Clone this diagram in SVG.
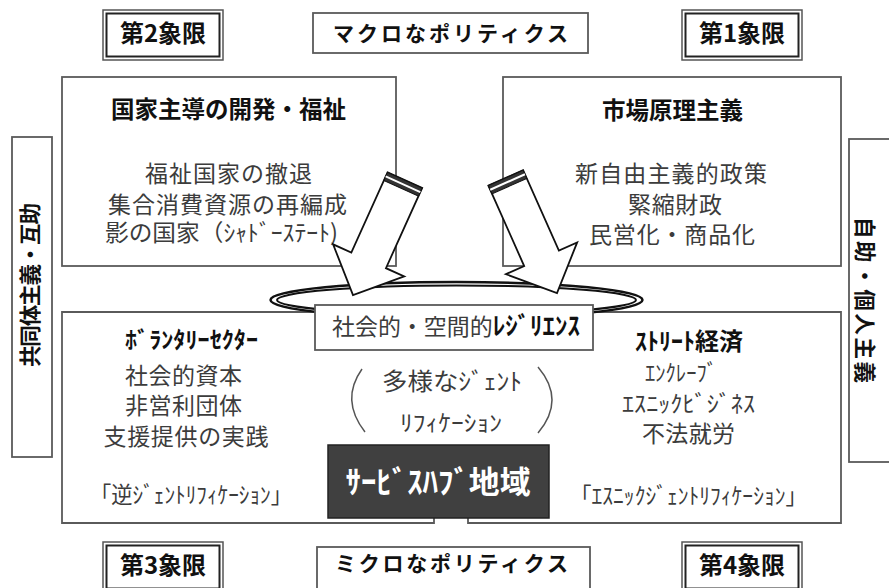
<svg xmlns="http://www.w3.org/2000/svg" width="889" height="588" viewBox="0 0 889 588">
<defs>
<style>
text{font-family:'Noto Sans CJK JP','Noto Sans CJK SC','Noto Sans',sans-serif;text-anchor:middle}
.box{fill:#fff;stroke:#5a5a5a;stroke-width:1.8}
.qo{fill:#fff;stroke:#555;stroke-width:1.5}
.qi{fill:none;stroke:#222;stroke-width:2}
.q{font-size:24px;font-weight:bold;fill:#111}
.pol{font-size:21px;font-weight:bold;fill:#111}
.ti{font-size:23.5px;font-weight:bold;fill:#111}
.t{font-size:23px;fill:#3c3c3c}
.s{font-size:22.5px;fill:#3c3c3c}
.side{font-size:21.5px;font-weight:bold;fill:#111}
.paren{fill:none;stroke:#555;stroke-width:1.5}
</style>
<g id="blockArrow">
<polygon points="-19,-126 19,-126 19,-38 39,-38 0,0 -39,-38 -19,-38" fill="#fff" stroke="#111" stroke-width="1.8" stroke-linejoin="miter"/>
<rect x="-19" y="-126" width="38" height="9" fill="#333" stroke="#111" stroke-width="1"/>
<line x1="-19" y1="-121.5" x2="19" y2="-121.5" stroke="#fff" stroke-width="2"/>
</g>
</defs>
<rect width="889" height="588" fill="#fff"/>

<g id="q2"><rect class="qo" x="103" y="10" width="120" height="50"/><rect class="qi" x="106.5" y="13.5" width="113" height="43"/><text class="q" x="163" y="42">第2象限</text></g>
<g id="q1"><rect class="qo" x="682" y="10" width="120" height="50"/><rect class="qi" x="685.5" y="13.5" width="113" height="43"/><text class="q" x="742" y="42">第1象限</text></g>
<g id="q3"><rect class="qo" x="103" y="542" width="120" height="50"/><rect class="qi" x="106.5" y="545.5" width="113" height="43"/><text class="q" x="163" y="574">第3象限</text></g>
<g id="q4"><rect class="qo" x="682" y="542" width="120" height="50"/><rect class="qi" x="685.5" y="545.5" width="113" height="43"/><text class="q" x="742" y="574">第4象限</text></g>

<g id="macro"><rect class="box" x="313" y="13" width="275" height="40"/><text class="pol" x="450.5" y="41" textLength="235" lengthAdjust="spacing">マクロなポリティクス</text></g>
<g id="micro"><rect class="box" x="317" y="547" width="273" height="42"/><text class="pol" x="451.5" y="571" textLength="233" lengthAdjust="spacing">ミクロなポリティクス</text></g>

<g id="side-left"><rect class="box" x="12" y="137" width="40" height="320"/><text class="side" transform="translate(38,285) rotate(-90)" textLength="164" lengthAdjust="spacing">共同体主義・互助</text></g>
<g id="side-right"><rect class="box" x="849" y="139" width="42" height="323"/><text class="side" transform="translate(857,300) rotate(90)" textLength="166" lengthAdjust="spacing">自助・個人主義</text></g>

<g id="quad2">
<rect class="box" x="62" y="77" width="334" height="189"/>
<text class="ti" x="228.5" y="118">国家主導の開発・福祉</text>
<text class="t" x="228.5" y="182" textLength="167" lengthAdjust="spacing">福祉国家の撤退</text>
<text class="t" x="227.5" y="213" textLength="239" lengthAdjust="spacing">集合消費資源の再編成</text>
<text class="t" x="221.5" y="241" textLength="233" lengthAdjust="spacingAndGlyphs">影の国家（ｼｬﾄﾞｰｽﾃｰﾄ)</text>
</g>
<g id="quad1">
<rect class="box" x="503" y="77" width="338" height="189"/>
<text class="ti" x="672.5" y="119">市場原理主義</text>
<text class="t" x="671" y="182" textLength="192" lengthAdjust="spacing">新自由主義的政策</text>
<text class="t" x="675" y="213" textLength="94" lengthAdjust="spacing">緊縮財政</text>
<text class="t" x="672" y="243" textLength="166" lengthAdjust="spacing">民営化・商品化</text>
</g>

<g id="lower">
<path d="M434,518 V523 H62 V312 H841 V523 H468 V518" fill="#fff" stroke="#5a5a5a" stroke-width="1.8"/>
</g>

<g id="quad3">
<text class="ti" x="191.5" y="348" style="font-size:23px" textLength="133" lengthAdjust="spacingAndGlyphs">ﾎﾞﾗﾝﾀﾘｰｾｸﾀｰ</text>
<text class="t" x="183.5" y="384" textLength="117" lengthAdjust="spacing">社会的資本</text>
<text class="t" x="183.5" y="414" textLength="117" lengthAdjust="spacing">非営利団体</text>
<text class="t" x="186" y="445" textLength="165" lengthAdjust="spacing">支援提供の実践</text>
<text class="s" x="191" y="503" textLength="202" lengthAdjust="spacingAndGlyphs">「逆ｼﾞｪﾝﾄﾘﾌｨｹｰｼｮﾝ」</text>
</g>
<g id="quad4">
<text class="ti" x="689" y="350" style="font-size:24px" textLength="108" lengthAdjust="spacingAndGlyphs">ｽﾄﾘｰﾄ経済</text>
<text class="s" x="681" y="381" textLength="72" lengthAdjust="spacingAndGlyphs">ｴﾝｸﾚｰﾌﾞ</text>
<text class="s" x="688.5" y="412" textLength="133" lengthAdjust="spacingAndGlyphs">ｴｽﾆｯｸﾋﾞｼﾞﾈｽ</text>
<text class="t" x="688.5" y="442" textLength="93" lengthAdjust="spacing">不法就労</text>
<text class="s" x="688.5" y="504" textLength="237" lengthAdjust="spacingAndGlyphs">「ｴｽﾆｯｸｼﾞｪﾝﾄﾘﾌｨｹｰｼｮﾝ」</text>
</g>

<g id="ring">
<ellipse cx="456.5" cy="300" rx="186" ry="18" fill="none" stroke="#111" stroke-width="2.5"/>
<ellipse cx="456.5" cy="300" rx="179.5" ry="14.5" fill="none" stroke="#111" stroke-width="2"/>
</g>

<g id="resilience">
<rect class="box" x="315" y="305" width="278" height="45"/>
<text x="456" y="335" style="font-size:23px;fill:#3c3c3c" textLength="248" lengthAdjust="spacingAndGlyphs">社会的・空間的<tspan font-weight="bold" fill="#111" style="font-size:25px">ﾚｼﾞﾘｴﾝｽ</tspan></text>
</g>

<g id="gentrification">
<path class="paren" d="M362,369 Q340,400 365,432"/>
<path class="paren" d="M538,367 Q566,400 538,433"/>
<text class="t" x="452" y="390" style="font-size:24px" textLength="140" lengthAdjust="spacingAndGlyphs">多様なｼﾞｪﾝﾄ</text>
<text class="s" x="451" y="431" textLength="102" lengthAdjust="spacingAndGlyphs">ﾘﾌｨｹｰｼｮﾝ</text>
</g>

<g id="servicehub">
<rect x="328" y="445" width="221" height="73" fill="#404040" stroke="#222" stroke-width="1.5"/>
<text x="438" y="493" style="font-size:31px;font-weight:bold;fill:#fff" textLength="185" lengthAdjust="spacingAndGlyphs">ｻｰﾋﾞｽﾊﾌﾞ地域</text>
</g>

<g id="connectors">
<use href="#blockArrow" transform="translate(353,295) rotate(24.3)"/>
<use href="#blockArrow" transform="translate(557,293) rotate(-24)"/>
</g>
</svg>
